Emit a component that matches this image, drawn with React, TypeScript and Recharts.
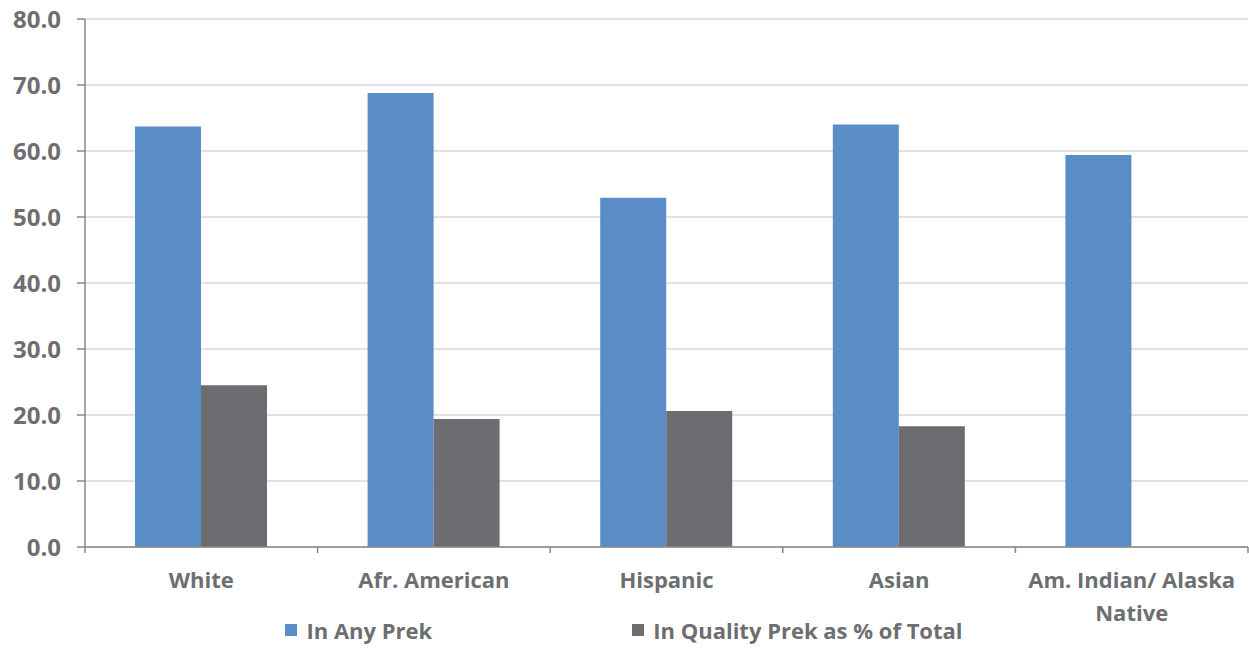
import React from 'react';
import { BarChart, Bar, XAxis, YAxis, CartesianGrid, Legend } from 'recharts';

const categories = ['White', 'Afr. American', 'Hispanic', 'Asian', 'Am. Indian/ Alaska Native'];
const anyPrek = [63.7, 68.8, 52.9, 64.0, 59.4];
const qualityPrek = [24.5, 19.4, 20.6, 18.3, null];
const yTicks = [0, 10, 20, 30, 40, 50, 60, 70, 80];

const seriesNames = ['In Any Prek', 'In Quality Prek as % of Total'];
const seriesColors = ['#5A8DC6', '#6C6D71'];

const data = categories.map((name, i) => ({ name, anyPrek: anyPrek[i], qualityPrek: qualityPrek[i] }));

const TEXT = '#6D6E71';
const AXIS = '#878787';
const FONT = '"Open Sans", sans-serif';

const W = 1249;
const H = 648;
const PLOT_LEFT = 85;
const BAND = (W - PLOT_LEFT - 1) / categories.length;

// greedy wrap by character count, like the original's two-line last label
const wrap = (s: string, max = 20) => {
  const lines: string[] = [];
  let cur = '';
  s.split(' ').forEach((w) => {
    const next = cur ? cur + ' ' + w : w;
    if (next.length > max && cur) {
      lines.push(cur);
      cur = w;
    } else {
      cur = next;
    }
  });
  if (cur) lines.push(cur);
  return lines;
};

const CategoryTick = (props: any) => {
  const { x, y, payload, index } = props;
  const left = x - BAND / 2;
  const right = x + BAND / 2;
  const lines = wrap(String(payload.value));
  return (
    <g>
      <line x1={left} y1={y - 6} x2={left} y2={y} stroke={AXIS} strokeWidth={1.5} />
      {index === categories.length - 1 && (
        <line x1={right} y1={y - 6} x2={right} y2={y} stroke={AXIS} strokeWidth={1.5} />
      )}
      <text x={x} y={y + 35} textAnchor="middle" fill={TEXT} fontSize={22} fontWeight={700} fontFamily={FONT}>
        {lines.map((l, i) => (
          <tspan key={i} x={x} dy={i === 0 ? 0 : 33}>
            {l}
          </tspan>
        ))}
      </text>
    </g>
  );
};

const LegendContent = () => (
  <div
    style={{
      display: 'flex',
      justifyContent: 'center',
      alignItems: 'center',
      gap: 200,
      height: 36,
      fontFamily: FONT,
      fontWeight: 700,
      fontSize: 22,
      color: TEXT,
    }}
  >
    {seriesNames.map((n, i) => (
      <div key={n} style={{ display: 'flex', alignItems: 'center' }}>
        <span style={{ width: 12, height: 12, background: seriesColors[i], marginRight: 9, display: 'inline-block' }} />
        <span>{n}</span>
      </div>
    ))}
  </div>
);

export default function App() {
  return (
    <div style={{ position: 'absolute', left: 0, top: 0, width: W, height: H, background: '#fff' }}>
      <BarChart
        width={W}
        height={H}
        data={data}
        margin={{ top: 19, right: 1, left: 0, bottom: 0 }}
        barCategoryGap="21.5%"
        barGap={0}
      >
        <CartesianGrid vertical={false} stroke="#D9D9D9" strokeWidth={1.5} />
        <XAxis
          dataKey="name"
          height={65}
          tickLine={false}
          tickSize={6}
          tickMargin={0}
          interval={0}
          stroke={AXIS}
          strokeWidth={1.5}
          tick={<CategoryTick />}
        />
        <YAxis
          width={PLOT_LEFT}
          domain={[0, 80]}
          ticks={yTicks}
          tickFormatter={(v: number) => v.toFixed(1)}
          tickSize={8}
          tickMargin={16}
          stroke={AXIS}
          strokeWidth={1.5}
          tick={{ fill: TEXT, fontSize: 24, fontWeight: 700, fontFamily: FONT }}
        />
        <Legend verticalAlign="bottom" height={36} content={<LegendContent />} />
        <Bar dataKey="anyPrek" name={seriesNames[0]} fill={seriesColors[0]} isAnimationActive={false} />
        <Bar dataKey="qualityPrek" name={seriesNames[1]} fill={seriesColors[1]} isAnimationActive={false} />
      </BarChart>
    </div>
  );
}
